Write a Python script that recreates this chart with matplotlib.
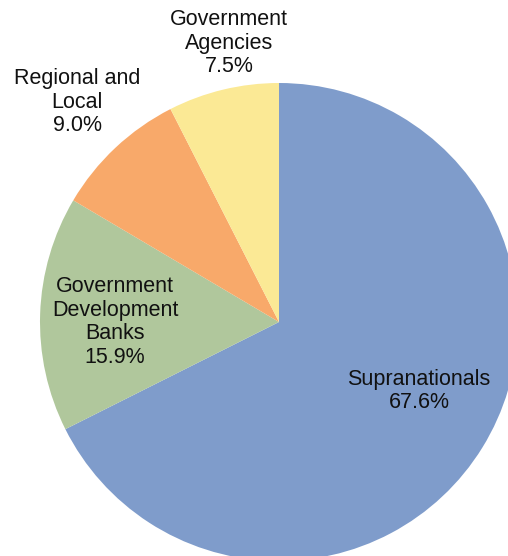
import matplotlib
matplotlib.use("Agg")
import matplotlib.pyplot as plt

categories = ["Supranationals", "Government\nDevelopment\nBanks", "Regional and\nLocal", "Government\nAgencies"]
values = [67.6, 15.9, 9.0, 7.5]
colors = ["#7F9CCB", "#B0C79C", "#F8A96A", "#FBE995"]

plt.rcParams['font.family'] = ['Liberation Sans', 'DejaVu Sans']

fig = plt.figure(figsize=(5.08, 5.56), dpi=100)
ax = fig.add_axes([0, 0, 1, 1])
R = 239
ax.pie(values, colors=colors, startangle=90, counterclock=False, radius=R,
       center=(0, 0), wedgeprops=dict(linewidth=0), frame=True)
ax.set_xlim(-279, 229)
ax.set_ylim(-234, 322)
ax.set_aspect('equal')
ax.axis('off')

label_pos = [(140, -69), (-164, 0), (-202, 220), (-50, 279)]
for cat, v, (x, y) in zip(categories, values, label_pos):
    ax.text(x, y, f"{cat}\n{v:.1f}%", ha='center', va='center', fontsize=15.5,
            color='#111111', linespacing=1.17)

fig.savefig("out.png", dpi=100)
